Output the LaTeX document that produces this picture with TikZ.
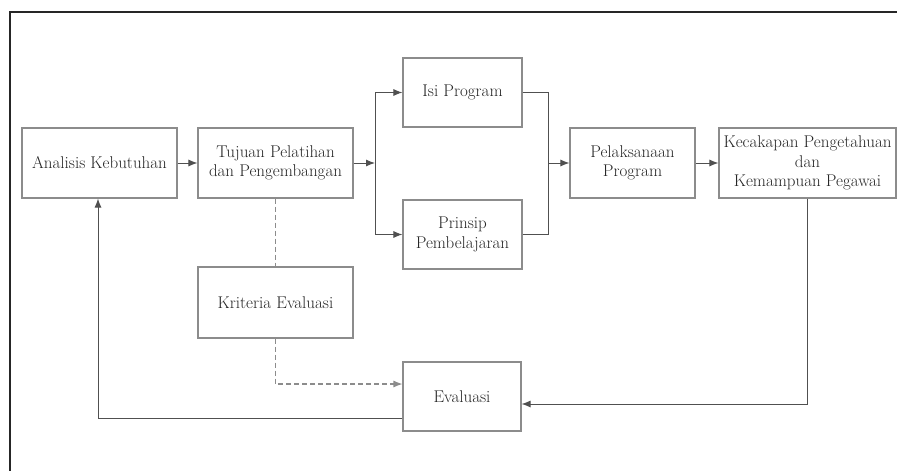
\documentclass[tikz,border=0pt]{standalone}
\usepackage{fontspec}
\usetikzlibrary{arrows.meta}
\definecolor{boxline}{HTML}{8C8C8C}
\definecolor{conn}{HTML}{505050}
\definecolor{txt}{HTML}{262626}
\begin{document}
\begin{tikzpicture}[x=1pt,y=-1pt,
  blk/.style={draw=boxline,line width=1.1pt,rectangle,align=center,text=txt,
    font=\fontsize{17}{19.5}\selectfont,inner sep=0pt},
  conline/.style={draw=conn,line width=1pt},
  arr/.style={conline,-{Latex[length=9pt,width=7pt]}},
  dsh/.style={draw=boxline,line width=1.1pt,dash pattern=on 5pt off 3pt}]
\useasboundingbox (0,0) rectangle (897,471);
\fill[white] (0,0) rectangle (897,471);
% frame
\draw[line width=2pt,color=black!85] (897,12) -- (10,12) -- (10,471);
% nodes
\node[blk,minimum width=155pt,minimum height=70pt] (ana) at (99.5,163) {Analisis Kebutuhan};
\node[blk,minimum width=155pt,minimum height=70pt] (tuj) at (275.5,163) {Tujuan Pelatihan\\dan Pengembangan};
\node[blk,minimum width=119pt,minimum height=69pt] (isi) at (462.5,92.5) {Isi Program};
\node[blk,minimum width=119pt,minimum height=69pt] (pri) at (462.5,234.5) {Prinsip\\Pembelajaran};
\node[blk,minimum width=125pt,minimum height=70pt] (pel) at (632.5,163) {Pelaksanaan\\Program};
\node[blk,minimum width=177pt,minimum height=70pt] (kec) at (807.5,163) {Kecakapan Pengetahuan\\dan\\Kemampuan Pegawai};
\node[blk,minimum width=155pt,minimum height=71pt] (kri) at (275.5,302.5) {Kriteria Evaluasi};
\node[blk,minimum width=118pt,minimum height=69pt] (eva) at (462,396.5) {Evaluasi};
% bus coordinates
\coordinate (b1) at (375,163);
\coordinate (b2) at (548,163);
\coordinate (c1) at (275.5,384);
\coordinate (c2) at (807.5,404);
\coordinate (c3) at (98,418);
% connectors
\draw[arr] (ana.east) -- (tuj.west);
\draw[arr] (tuj.east) -- (b1);
\draw[conline] (b1 |- isi.west) -- (b1 |- pri.west);
\draw[arr] (b1 |- isi.west) -- (isi.west);
\draw[arr] (b1 |- pri.west) -- (pri.west);
\draw[conline] (isi.east) -- (b2 |- isi.east) -- (b2 |- pri.east) -- (pri.east);
\draw[arr] (b2) -- (pel.west);
\draw[arr] (pel.east) -- (kec.west);
\draw[arr] (kec.south) -- (c2) -- (c2 -| eva.east);
\draw[arr] (c3 -| eva.west) -- (c3) -- (ana.south -| c3);
\draw[dsh] (tuj.south) -- (kri.north);
\draw[dsh,-{Latex[length=9pt,width=7pt]},draw=boxline] (kri.south) -- (c1) -- (c1 -| eva.west);
\end{tikzpicture}
\end{document}
